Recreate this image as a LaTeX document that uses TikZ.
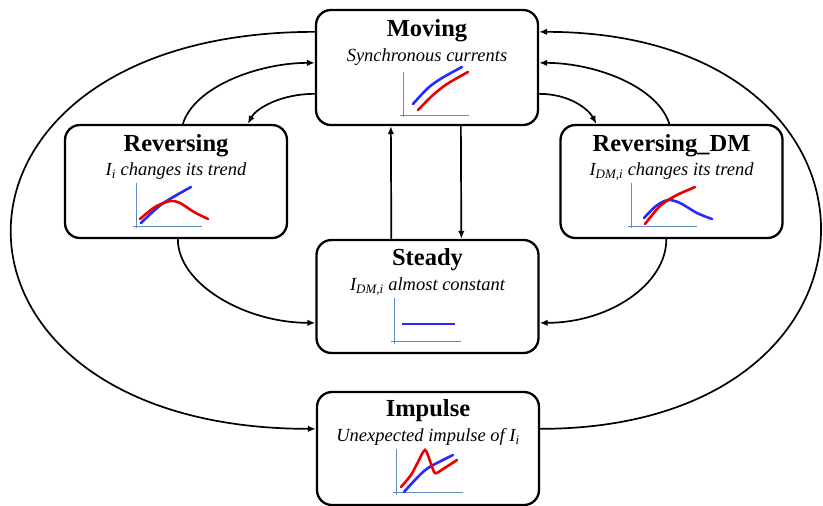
\documentclass[tikz,border=0pt]{standalone}
\usepackage{fontspec}
\setmainfont{Liberation Serif}
\usetikzlibrary{arrows.meta,calc}
\definecolor{axc}{RGB}{95,140,200}
\definecolor{bl}{RGB}{40,40,255}
\definecolor{rd}{RGB}{235,0,0}
\begin{document}
\begin{tikzpicture}[x=1pt,y=-1pt,
  statebox/.style={draw,line width=2.3pt,rounded corners=15pt,minimum width=222pt,minimum height=113pt,inner sep=0pt},
  ttl/.style={anchor=base,font=\bfseries\fontsize{24.5}{24.5}\selectfont},
  sub/.style={anchor=base,font=\itshape\fontsize{18.5}{18.5}\selectfont},
  conn/.style={line width=1.7pt,-{Latex[length=8pt,width=6.5pt]}},
  axis/.style={axc,line width=1pt},
  cb/.style={bl,line width=2.6pt,line cap=round},
  cr/.style={rd,line width=2.6pt,line cap=round}]
\useasboundingbox (0,0) rectangle (823,506);
\fill[white] (0,0) rectangle (823,506);

% boxes
\node[statebox,minimum height=115pt] (mov) at (427,67.5) {};
\node[statebox] (rev) at (176,181.5) {};
\node[statebox] (rdm) at (671.5,181.5) {};
\node[statebox] (std) at (427.5,296.5) {};
\node[statebox] (imp) at (428,448.5) {};

% titles
\node[ttl] (movt) at ($(mov.north)+(0,28)$) {Moving};
\node[sub] (movs) at ($(mov.north)+(0,53)$) {Synchronous currents};
\node[ttl] (revt) at ($(rev.north)+(0,28)$) {Reversing};
\node[sub] (revs) at ($(rev.north)+(0,52)$) {I\textsubscript{i} changes its trend};
\node[ttl] (rdmt) at ($(rdm.north)+(0,28)$) {Reversing\_DM};
\node[sub] (rdms) at ($(rdm.north)+(0,52)$) {I\textsubscript{DM,i} changes its trend};
\node[ttl] (stdt) at ($(std.north)+(0,27)$) {Steady};
\node[sub] (stds) at ($(std.north)+(0,52)$) {I\textsubscript{DM,i} almost constant};
\node[ttl] (impt) at ($(imp.north)+(0,26)$) {Impulse};
\node[sub] (imps) at ($(imp.north)+(0,51)$) {Unexpected impulse of I\textsubscript{i}};

% charts: Moving
\draw[axis] (403,72) -- (403,117);
\draw[axis] (400,115) -- (469,115);
\draw[cb] plot[smooth] coordinates {(413,104) (428,88) (442,78) (462,67)};
\draw[cr] plot[smooth] coordinates {(418,110) (433,95) (447,84) (468,72)};
% Reversing
\draw[axis] (136,183) -- (136,228);
\draw[axis] (133,226) -- (202,226);
\draw[cb] plot[smooth] coordinates {(141,223) (162,204) (191,187)};
\draw[cr] plot[smooth] coordinates {(140,219) (155,207) (170,201) (180,203) (194,212) (208,219)};
% Reversing_DM
\draw[axis] (631,183) -- (631,228);
\draw[axis] (628,226) -- (697,226);
\draw[cb] plot[smooth] coordinates {(644,218) (656,206) (668,200) (680,203) (697,213) (712,219)};
\draw[cr] plot[smooth] coordinates {(645,224) (660,206) (675,196) (695,187)};
% Steady
\draw[axis] (394,298) -- (394,344);
\draw[axis] (391,341) -- (461,341);
\draw[bl,line width=2pt] (402,324) -- (455,324);
% Impulse
\draw[axis] (396,449) -- (396,495);
\draw[axis] (393,492) -- (463,492);
\draw[cb] plot[smooth] coordinates {(404,492) (415,480) (428,468) (453,455)};
\draw[cr] plot[smooth,tension=0.5] coordinates {(401,487) (411,475) (418,462) (425,450) (430,461) (435,473) (443,469) (457,460)};

% connectors
\draw[conn] ($(mov.north west)+(0,23)$) .. controls +(-405,0) and +(-405,0) .. ($(imp.north west)+(0,38)$);
\draw[conn] ($(imp.north east)+(0,38)$) .. controls +(374,0) and +(374,0) .. ($(mov.north east)+(0,23)$);
\draw[conn] ($(rev.north west)+(119,0)$) .. controls +(12,-38) and +(-55,0) .. ($(mov.north west)+(0,54)$);
\draw[conn] ($(mov.north west)+(0,85)$) .. controls +(-35,0) and +(8,-15) .. ($(rev.north west)+(184,0)$);
\draw[conn] ($(mov.north east)+(0,85)$) .. controls +(30,0) and +(-8,-15) .. ($(rdm.north west)+(37,0)$);
\draw[conn] ($(rdm.north west)+(110,0)$) .. controls +(-12,-38) and +(55,0) .. ($(mov.north east)+(0,54)$);
\draw[conn] ($(std.north west)+(76,0)$) -- ($(mov.south west)+(76,0)$);
\draw[conn] ($(mov.south west)+(146,0)$) -- ($(std.north west)+(146,0)$);
\draw[conn] ($(rev.south west)+(114,0)$) .. controls +(0,45) and +(-70,0) .. ($(std.north west)+(0,84)$);
\draw[conn] ($(rdm.south west)+(107,0)$) .. controls +(0,45) and +(70,0) .. ($(std.north east)+(0,84)$);
\end{tikzpicture}
\end{document}
